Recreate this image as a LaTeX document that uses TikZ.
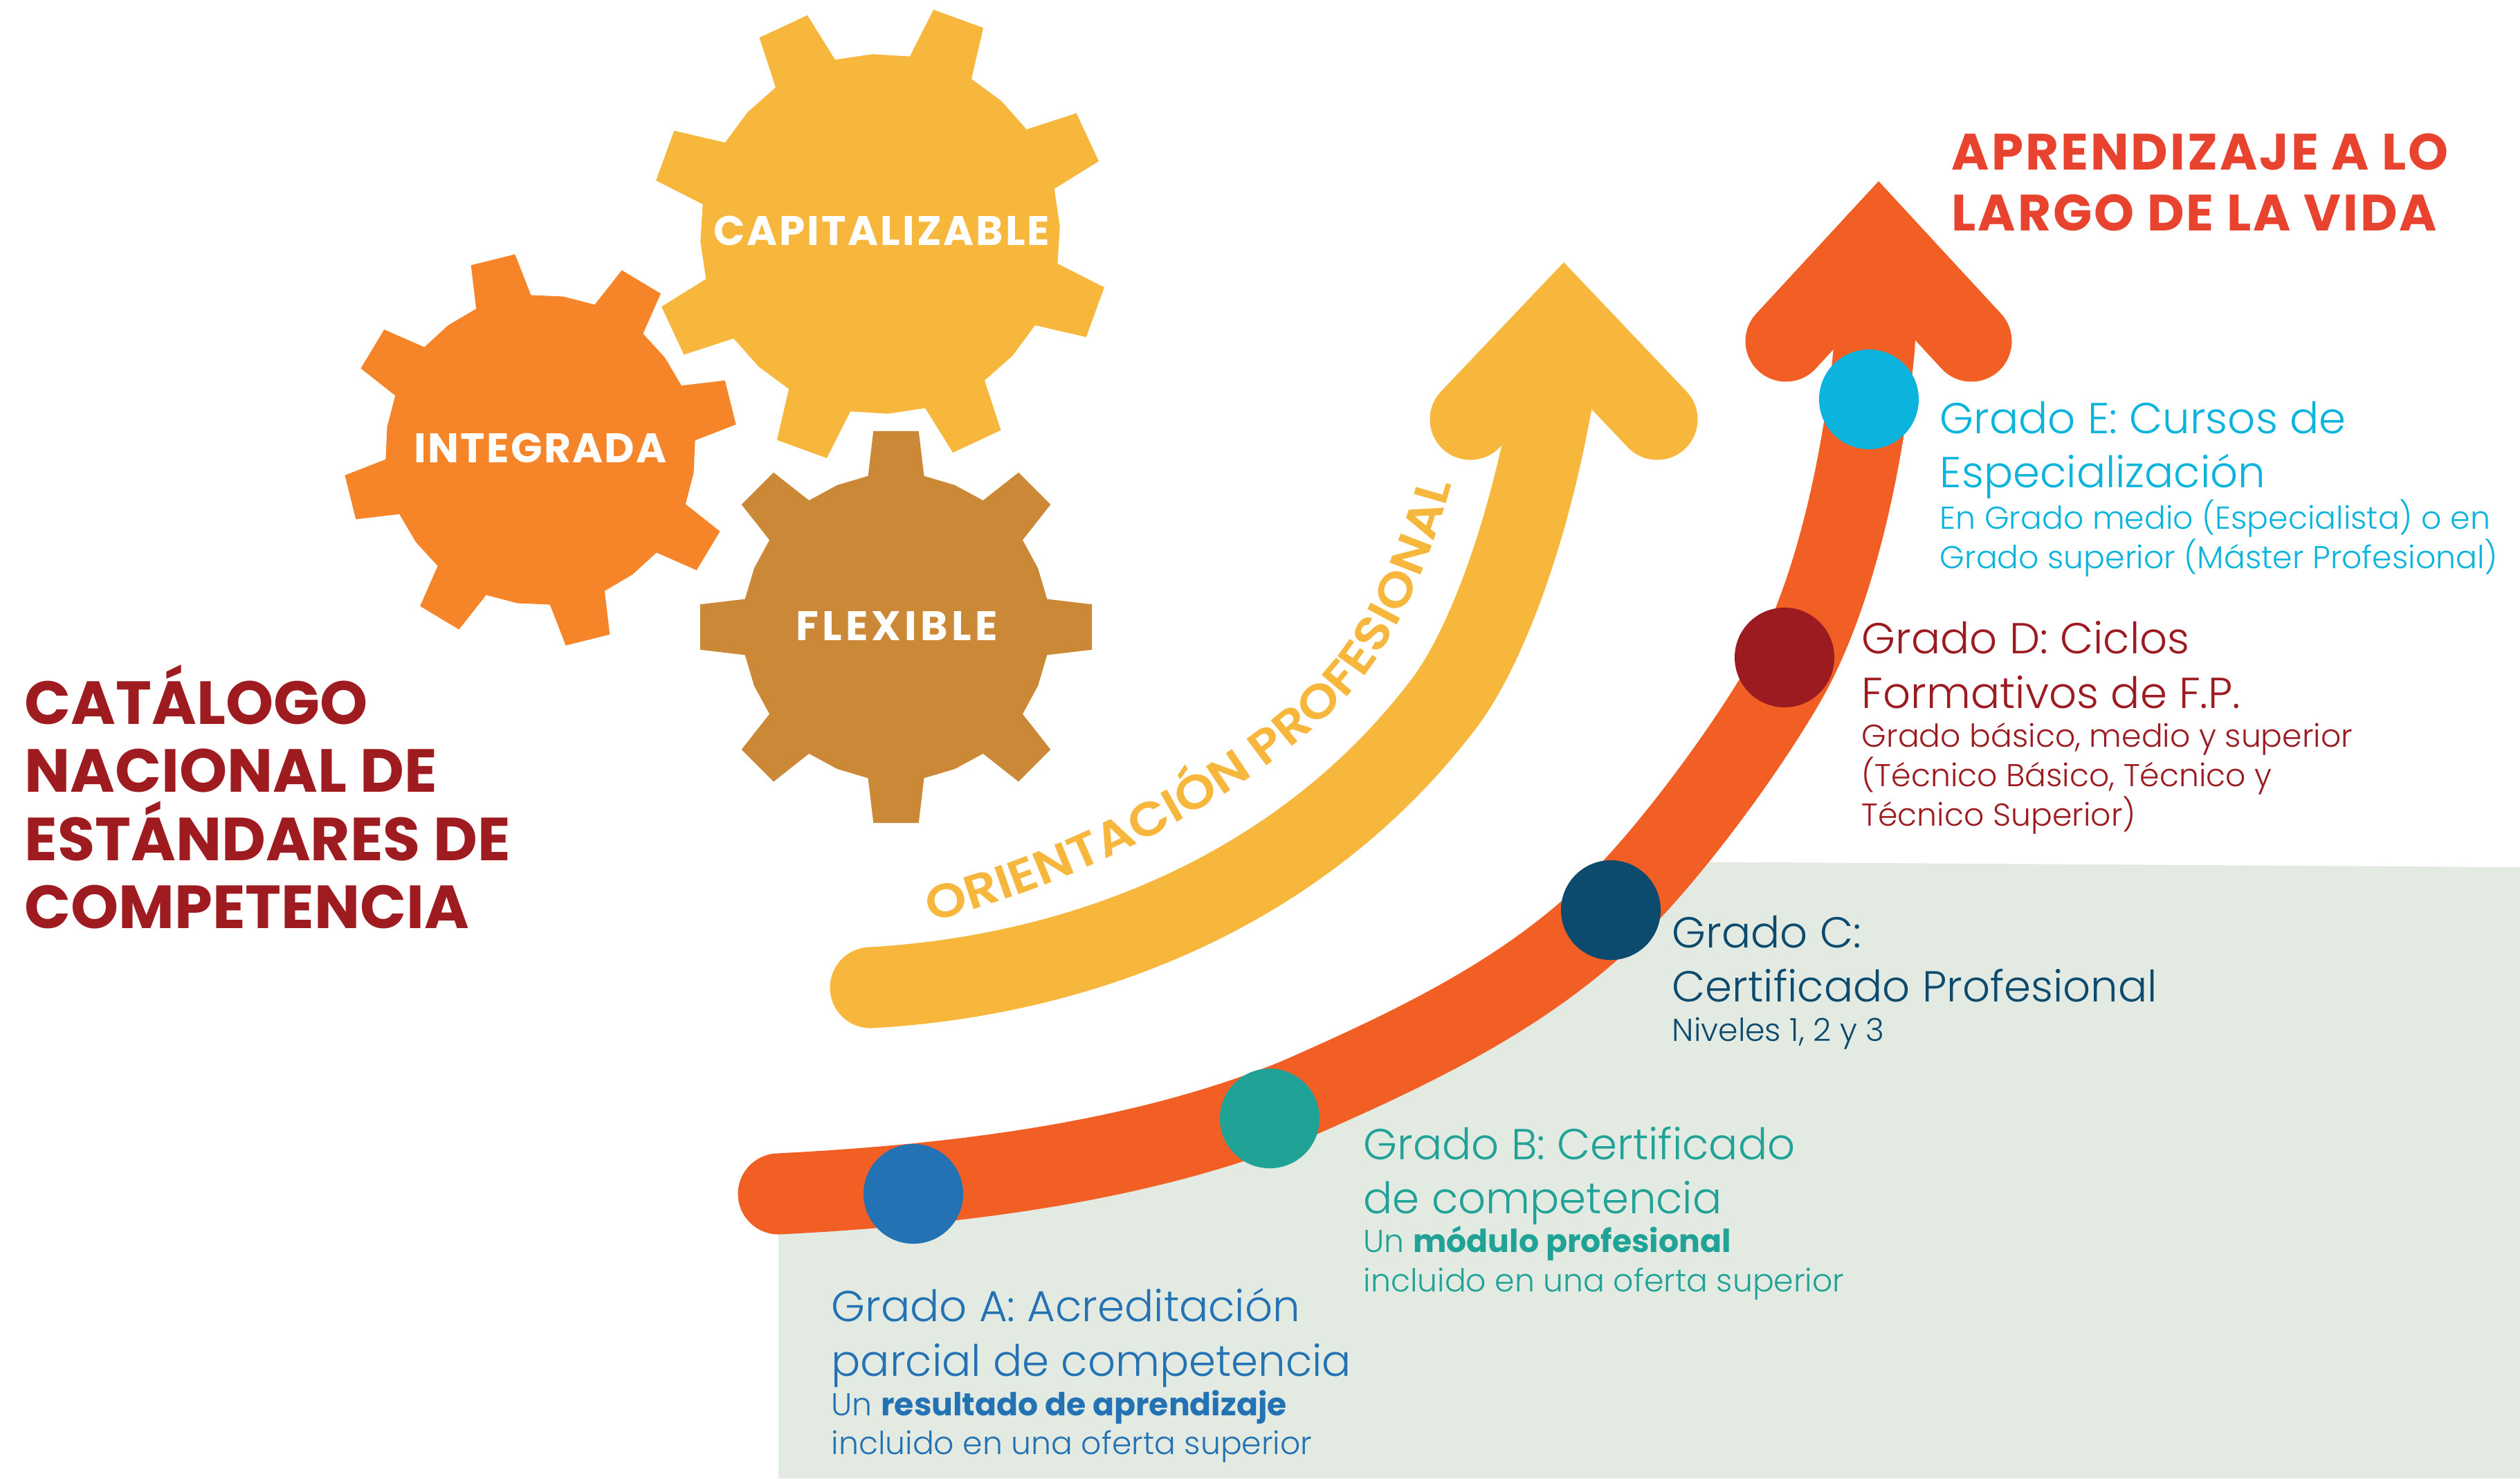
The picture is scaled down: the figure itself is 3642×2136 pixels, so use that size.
\documentclass[tikz,border=0pt]{standalone}
\usepackage{fontspec}
\setmainfont{Poppins}
\newfontfamily\lightfont{Poppins Light}
\newfontfamily\orientfont{Poppins SemiBold}[FakeStretch=1.1]
\usetikzlibrary{decorations.text}
\definecolor{capcol}{HTML}{F6B73C}
\definecolor{intcol}{HTML}{F68428}
\definecolor{flxcol}{HTML}{CB8937}
\definecolor{arrcol}{HTML}{F15F24}
\definecolor{bgcol}{HTML}{E3EAE2}
\definecolor{catcol}{HTML}{9E1B20}
\definecolor{vidacol}{HTML}{E8432E}
\definecolor{acol}{HTML}{2272B4}
\definecolor{bcol}{HTML}{20A297}
\definecolor{ccol}{HTML}{0C4A6E}
\definecolor{dcol}{HTML}{9C1B20}
\definecolor{ecol}{HTML}{0CB4DD}
\tikzset{
    gearlabel/.style={text=white, font=\fontsize{17}{18}\selectfont\bfseries\addfontfeature{LetterSpace=#1}, inner sep=0pt},
    dot/.style={circle, minimum size=1.44cm, inner sep=0pt},
    headtxt/.style={anchor=north west, align=left, inner sep=0pt, font=\lightfont\fontsize{17.8}{22.4}\selectfont},
    subtxt/.style={anchor=north west, align=left, inner sep=0pt, font=\lightfont\fontsize{13}{16.1}\selectfont},
    bigtxt/.style={anchor=north west, align=left, inner sep=0pt, font=\fontsize{25}{28}\selectfont\bfseries},
    ribbon/.style={line width=1.17cm, line cap=round, miter limit=10}
}
% gear: x, y, turn, body radius, tip radius, colour
\newcommand*{\rueda}[6]{
    \begin{scope}[shift={(#1,#2)}]
        \fill[#6](#3-10.5:#4)
            \foreach \k in {0,...,7}{
                --(#3+\k*45-10.5:#4)--(#3+\k*45-6.6:#5)--(#3+\k*45+6.6:#5)
                --(#3+\k*45+10.5:#4)--(#3+\k*45+22.5:#4)
            }--cycle;
    \end{scope}
}
\begin{document}
\begin{tikzpicture}[x=.01cm, y=-.01cm]
    \useasboundingbox(0, 0)rectangle(3642, 2136);
    % green ground
    \fill[bgcol](1125, 2136)--(1125, 1725)..controls(1380, 1712)and(1650, 1680)..(1878, 1586)
        ..controls(2050, 1510)and(2220, 1430)..(2351, 1293)--(2400, 1245)--(3642, 1253)--(3642, 2136)--cycle;
    % gears
    \rueda{1272}{338}{20}{260}{333}{capcol}
    \rueda{781}{650}{-14}{224}{285}{intcol}
    \rueda{1295}{906}{0}{222}{285}{flxcol}
    \node[gearlabel=5] (capital) at (1274, 333) {CAPITALIZABLE};
    \node[gearlabel=4] (integra) at (781, 647) {INTEGRADA};
    \node[gearlabel=9] (flexible) at (1296, 905) {FLEXIBLE};
    % yellow arrow
    \draw[ribbon, capcol](1258, 1427)..controls(1560, 1410)and(1880, 1290)..(2088, 1015)
        ..controls(2154, 927)and(2230, 720)..(2260, 464);
    \draw[ribbon, capcol](2125, 606)--(2260, 464)--(2395, 606);
    \path[decorate, decoration={text along path, text align={left}, text color=capcol,
        text={|\orientfont\fontsize{19.5}{20}\selectfont|ORIENTACIÓN PROFESIONAL}}]
        (1345, 1332)..controls(1600, 1265)and(1830, 1130)..(1950, 1003)
        ..controls(2020, 925)and(2075, 800)..(2110, 650);
    % orange arrow
    \draw[ribbon, arrcol](1125, 1725)..controls(1380, 1712)and(1650, 1680)..(1878, 1586)
        ..controls(2050, 1510)and(2220, 1430)..(2351, 1293)
        ..controls(2430, 1210)and(2525, 1080)..(2580, 985)
        ..controls(2655, 855)and(2695, 650)..(2709, 500)--(2715, 348);
    \draw[ribbon, arrcol](2581, 493)--(2715, 348)--(2849, 493);
    % grades
    \node[dot, fill=acol] (gradoa) at (1320, 1725) {};
    \node[dot, fill=bcol] (gradob) at (1835, 1616) {};
    \node[dot, fill=ccol] (gradoc) at (2328, 1315) {};
    \node[dot, fill=dcol] (gradod) at (2579, 950) {};
    \node[dot, fill=ecol] (gradoe) at (2701, 577) {};
    \node[headtxt, text=acol] (heada) at (1201, 1860) {Grado A: Acreditación\\parcial de competencia};
    \node[subtxt, text=acol] (suba) at (1201, 2008) {Un {\fontspec{Poppins}\bfseries resultado de aprendizaje}\\incluido en una oferta superior};
    \node[headtxt, text=bcol] (headb) at (1970, 1627) {Grado B: Certificado\\de competencia};
    \node[subtxt, text=bcol] (subb) at (1970, 1771) {Un {\fontspec{Poppins}\bfseries módulo profesional}\\incluido en una oferta superior};
    \node[headtxt, text=ccol] (headc) at (2416, 1322) {Grado C:\\Certificado Profesional};
    \node[subtxt, text=ccol] (subc) at (2416, 1469) {Niveles 1, 2 y 3};
    \node[headtxt, text=dcol] (headd) at (2690, 897) {Grado D: Ciclos\\Formativos de F.P.};
    \node[subtxt, text=dcol] (subd) at (2690, 1044) {Grado básico, medio y superior\\(Técnico Básico, Técnico y\\Técnico Superior)};
    \node[headtxt, text=ecol] (heade) at (2803, 579) {Grado E: Cursos de\\Especialización};
    \node[subtxt, text=ecol] (sube) at (2803, 721) {En Grado medio (Especialista) o en\\Grado superior (Máster Profesional)};
    % titles
    \node[bigtxt, text=catcol] (catalogo) at (35, 960) {CATÁLOGO\\NACIONAL DE\\ESTÁNDARES DE\\COMPETENCIA};
    \node[anchor=north west, align=left, inner sep=0pt, text=vidacol,
        font=\fontsize{21}{25}\selectfont\bfseries\addfontfeature{LetterSpace=4}] (vida) at (2820, 192) {APRENDIZAJE A LO\\LARGO DE LA VIDA};
\end{tikzpicture}
\end{document}
